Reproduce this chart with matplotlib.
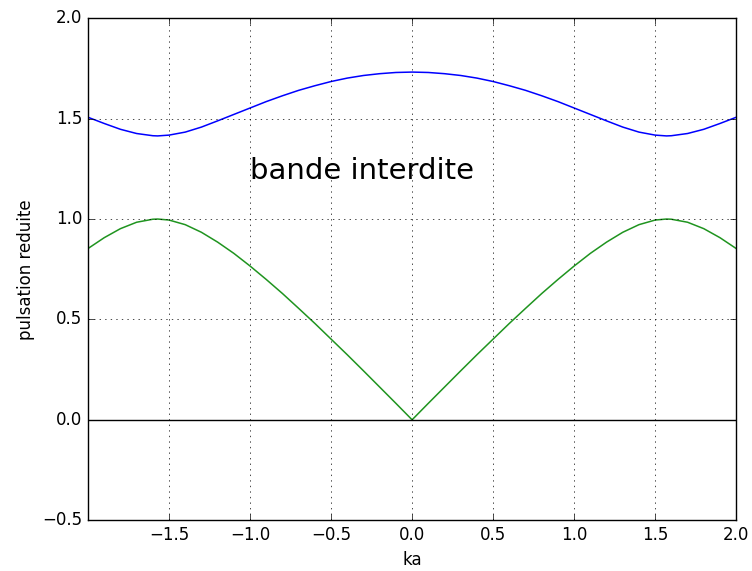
import numpy as np
import matplotlib
matplotlib.use("Agg")
import matplotlib.pyplot as plt

# values (ka, reduced pulsation)
ka = [0.0, 0.1, 0.2, 0.3, 0.4, 0.5, 0.6, 0.7, 0.8, 0.9, 1.0,
      1.1, 1.2, 1.3, 1.4, 1.5, 1.57, 1.6, 1.7, 1.8, 1.9, 2.0]
optique = [1.732, 1.730, 1.724, 1.715, 1.702, 1.685, 1.664, 1.641, 1.614, 1.585, 1.553,
           1.521, 1.489, 1.458, 1.433, 1.418, 1.414, 1.415, 1.426, 1.447, 1.476, 1.507]
acoustique = [0.0, 0.082, 0.163, 0.244, 0.324, 0.402, 0.480, 0.555, 0.629, 0.699, 0.766,
              0.829, 0.885, 0.934, 0.972, 0.995, 1.0, 0.999, 0.984, 0.952, 0.907, 0.853]

# curves are symmetric in ka
ka_full = np.concatenate([-np.array(ka[::-1]), np.array(ka[1:])])
opt_full = np.concatenate([optique[::-1], optique[1:]])
ac_full = np.concatenate([acoustique[::-1], acoustique[1:]])

plt.style.use('classic')
fig = plt.figure(figsize=(7.52, 5.71), dpi=100, facecolor='white')
ax = fig.add_axes([0.117, 0.089, 0.862, 0.879])

ax.plot(ka_full, opt_full, 'b', lw=1.1)
ax.plot(ka_full, ac_full, color='#1f941f', lw=1.1)
ax.axhline(0, color='k')
ax.text(-1.0, 1.2, 'bande interdite', fontsize=21)

ax.set_xlim(-2, 2)
ax.set_ylim(-0.5, 2.0)
ax.set_xticks([-1.5, -1.0, -0.5, 0.0, 0.5, 1.0, 1.5, 2.0])
ax.set_xlabel('ka')
ax.set_ylabel('pulsation reduite')
ax.grid(True)

fig.savefig('out.png', dpi=100, facecolor='white')
